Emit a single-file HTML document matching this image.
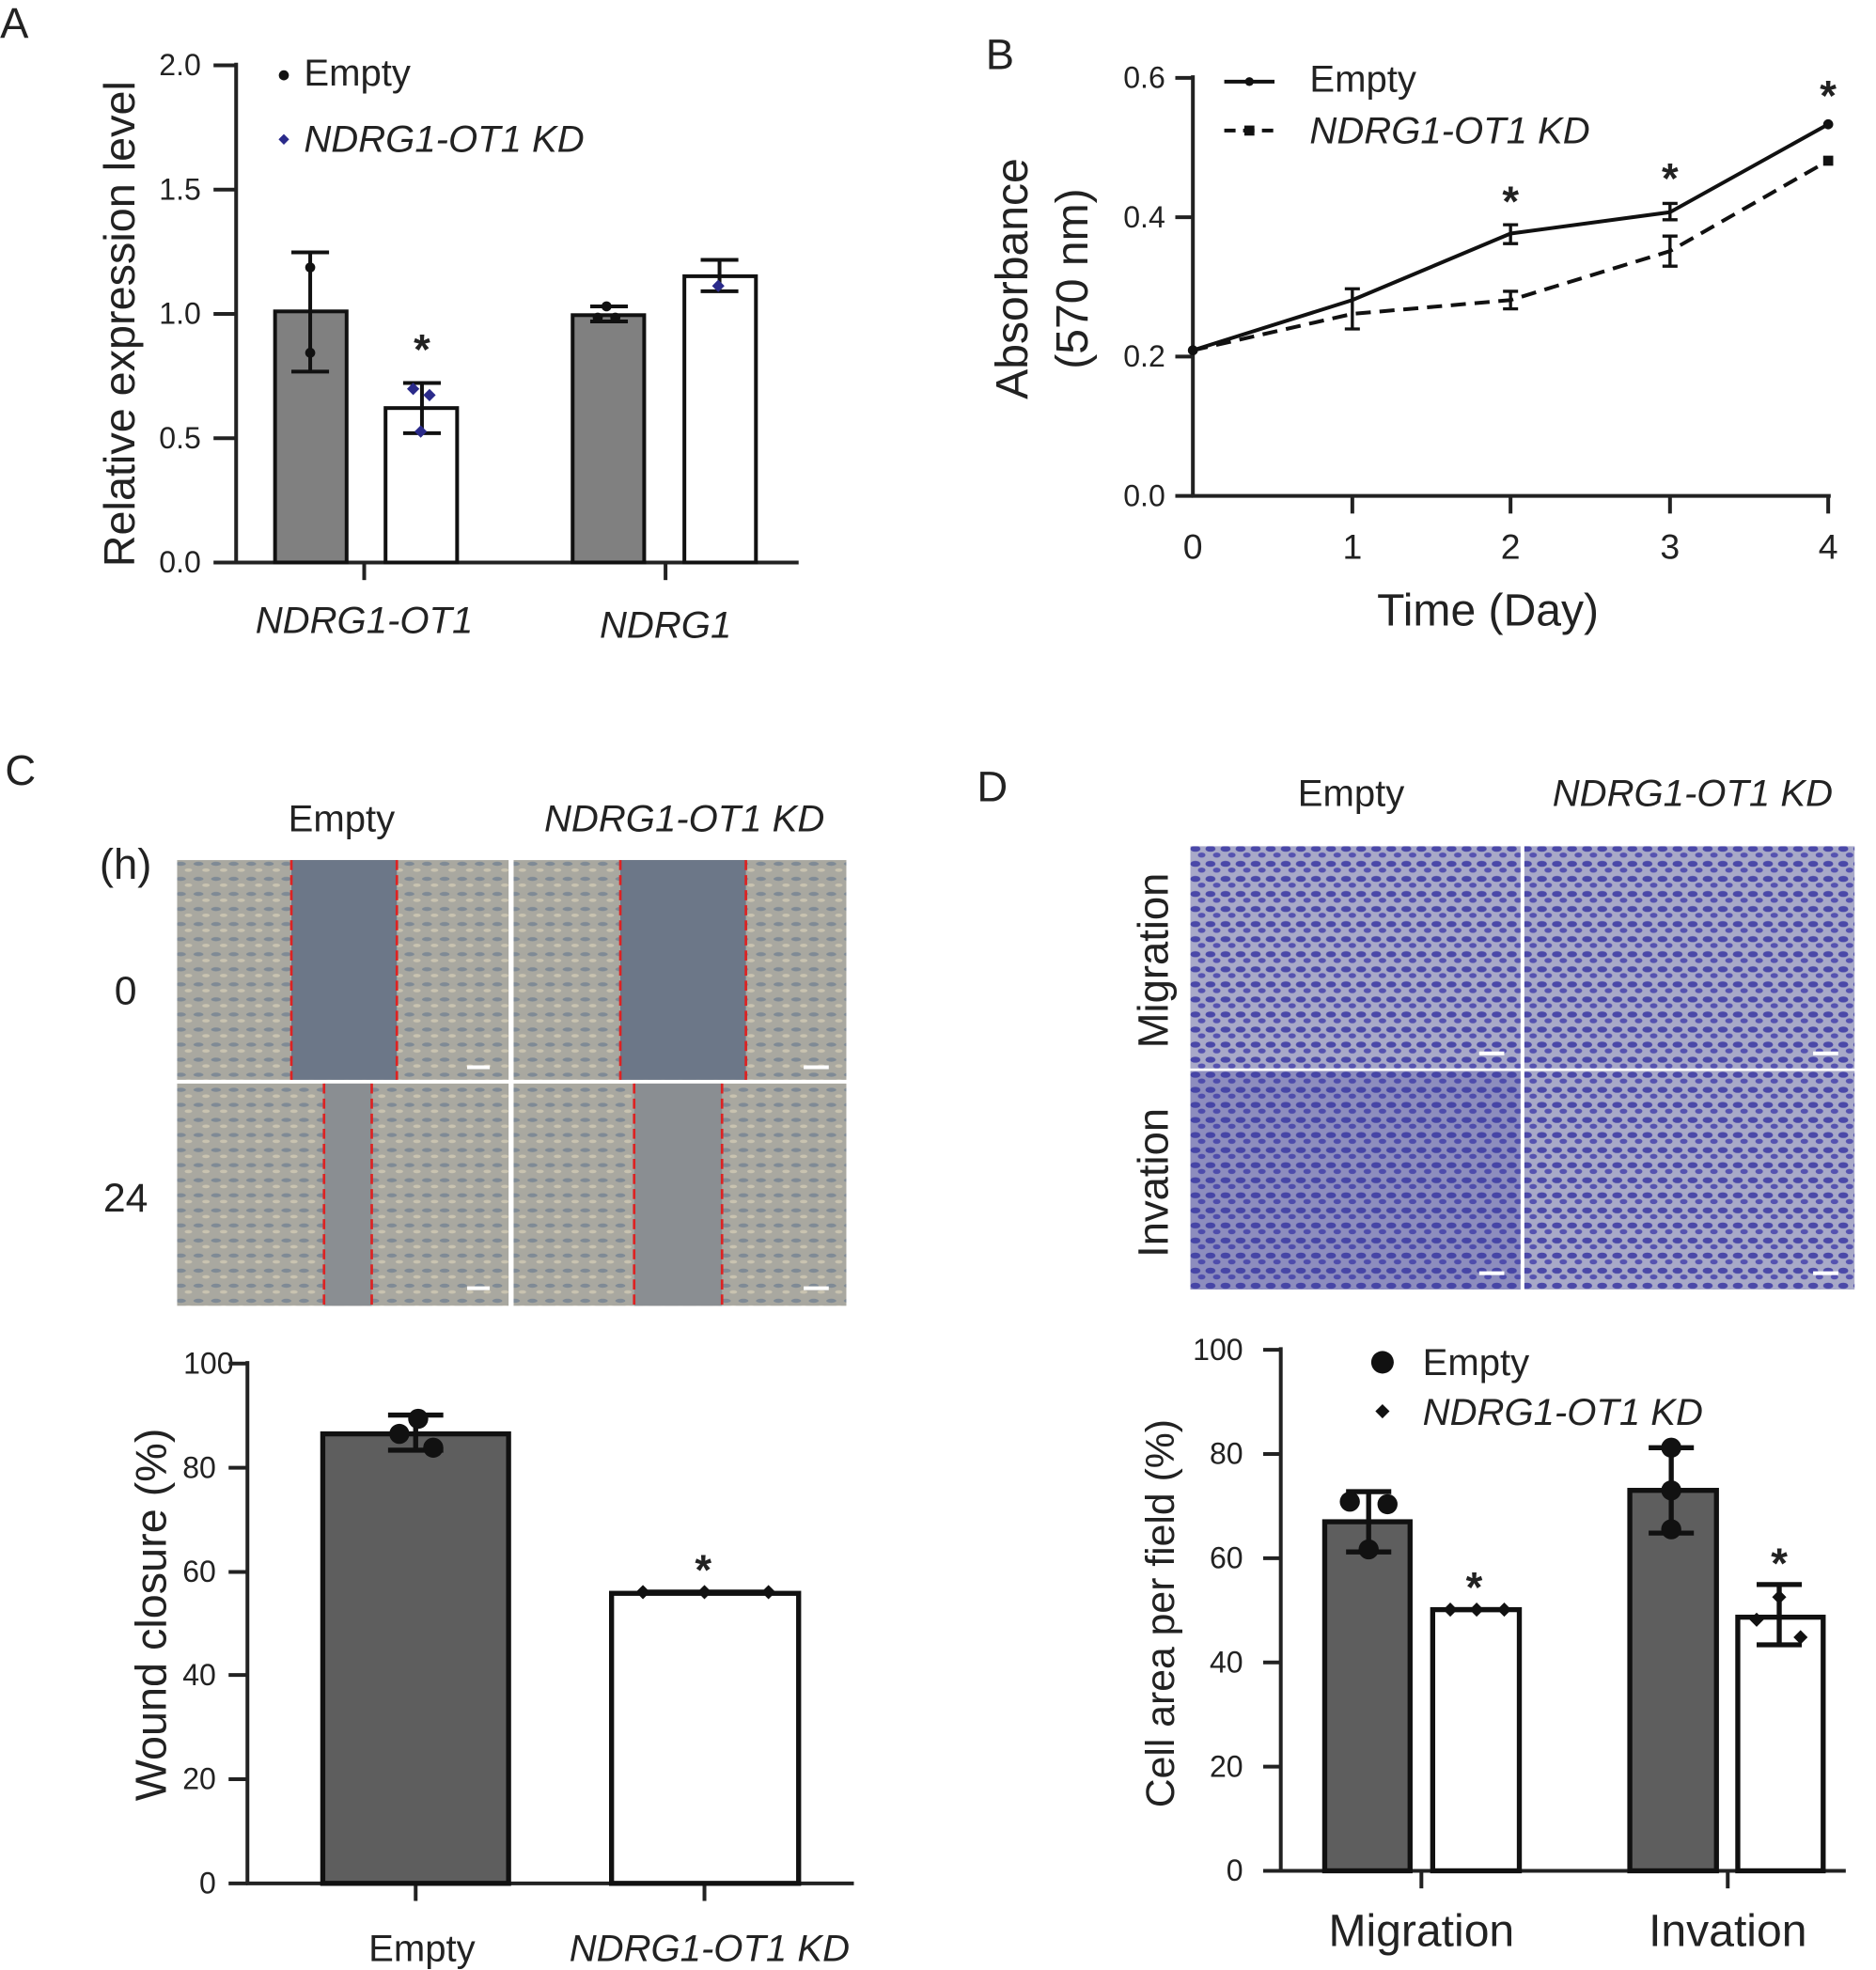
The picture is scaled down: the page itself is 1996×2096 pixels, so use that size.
<!DOCTYPE html>
<html><head><meta charset="utf-8"><style>
html,body{margin:0;padding:0;background:#fff}
svg{display:block}
text{font-family:"Liberation Sans",Arial,sans-serif;fill:#222}
.st{font-weight:bold}
</style></head><body>
<svg width="1996" height="2096" viewBox="0 0 1494 1569" xmlns="http://www.w3.org/2000/svg">
<defs>
<pattern id="cellsC" width="14" height="12" patternUnits="userSpaceOnUse">
<rect width="14" height="12" fill="#a9a8a0"/><ellipse cx="4" cy="4" rx="4" ry="1.6" fill="#7f8a95"/><ellipse cx="10" cy="9" rx="3" ry="1.4" fill="#c9c3b0"/>
</pattern>
<pattern id="cellsD" width="12" height="12" patternUnits="userSpaceOnUse">
<rect width="12" height="12" fill="#a8a9c8"/><ellipse cx="4" cy="4" rx="4" ry="2.4" fill="#4a48a8"/><ellipse cx="9" cy="9" rx="3" ry="2" fill="#5552b0"/>
</pattern>
</defs>
<!-- Panel A -->
<text x="0" y="30" font-size="34">A</text>
<g stroke="#222" stroke-width="3" fill="none">
<line x1="188" y1="50" x2="188" y2="449"/>
<line x1="186" y1="448" x2="636" y2="448"/>
<line x1="170" y1="52" x2="188" y2="52"/><line x1="170" y1="151" x2="188" y2="151"/><line x1="170" y1="250" x2="188" y2="250"/><line x1="170" y1="349" x2="188" y2="349"/><line x1="170" y1="448" x2="188" y2="448"/>
<line x1="290" y1="448" x2="290" y2="462"/><line x1="530" y1="448" x2="530" y2="462"/>
</g>
<g font-size="24" text-anchor="end"><text x="160" y="60">2.0</text><text x="160" y="159">1.5</text><text x="160" y="258">1.0</text><text x="160" y="357">0.5</text><text x="160" y="456">0.0</text></g>
<text transform="translate(107,258) rotate(-90)" font-size="35" text-anchor="middle">Relative expression level</text>
<g stroke="#111" stroke-width="3">
<rect x="219" y="248" width="57" height="200" fill="#808080"/>
<rect x="307" y="325" width="57" height="123" fill="#fff"/>
<rect x="456" y="251" width="57" height="197" fill="#808080"/>
<rect x="545" y="220" width="57" height="228" fill="#fff"/>
<line x1="247" y1="201" x2="247" y2="296"/><line x1="232" y1="201" x2="262" y2="201"/><line x1="232" y1="296" x2="262" y2="296"/>
<line x1="336" y1="305" x2="336" y2="345"/><line x1="321" y1="305" x2="351" y2="305"/><line x1="321" y1="345" x2="351" y2="345"/>
<line x1="470" y1="244" x2="500" y2="244"/><line x1="470" y1="256" x2="500" y2="256"/>
<line x1="573" y1="207" x2="573" y2="232"/><line x1="558" y1="207" x2="588" y2="207"/><line x1="558" y1="232" x2="588" y2="232"/>
</g>
<g fill="#111"><circle cx="247" cy="213" r="4"/><circle cx="247" cy="281" r="4"/><circle cx="483" cy="244" r="4"/><circle cx="476" cy="253" r="4"/><circle cx="490" cy="253" r="4"/></g>
<g fill="#2a2a8a"><rect x="326" y="306" width="7" height="7" transform="rotate(45 329 309)"/><rect x="339" y="311" width="7" height="7" transform="rotate(45 342 314)"/><rect x="332" y="340" width="7" height="7" transform="rotate(45 335 343)"/><rect x="569" y="224" width="7" height="7" transform="rotate(45 572 227)"/></g>
<text class="st" x="336" y="290" font-size="34" text-anchor="middle">*</text>
<circle cx="226" cy="60" r="4" fill="#111"/><text x="242" y="68" font-size="30">Empty</text>
<rect x="223" y="108" width="6" height="6" fill="#2a2a8a" transform="rotate(45 226 111)"/><text x="242" y="121" font-size="30" font-style="italic">NDRG1-OT1 KD</text>
<text x="290" y="504" font-size="30" font-style="italic" text-anchor="middle">NDRG1-OT1</text>
<text x="530" y="508" font-size="30" font-style="italic" text-anchor="middle">NDRG1</text>

<!-- Panel B -->
<text x="785" y="55" font-size="34">B</text>
<g stroke="#222" stroke-width="3" fill="none">
<line x1="950" y1="60" x2="950" y2="396"/><line x1="949" y1="395" x2="1458" y2="395"/>
<line x1="936" y1="62" x2="950" y2="62"/><line x1="936" y1="173" x2="950" y2="173"/><line x1="936" y1="284" x2="950" y2="284"/><line x1="936" y1="395" x2="950" y2="395"/>
<line x1="1077" y1="395" x2="1077" y2="409"/><line x1="1203" y1="395" x2="1203" y2="409"/><line x1="1330" y1="395" x2="1330" y2="409"/><line x1="1456" y1="395" x2="1456" y2="409"/>
</g>
<g font-size="24" text-anchor="end"><text x="928" y="70">0.6</text><text x="928" y="181">0.4</text><text x="928" y="292">0.2</text><text x="928" y="403">0.0</text></g>
<g font-size="28" text-anchor="middle"><text x="950" y="445">0</text><text x="1077" y="445">1</text><text x="1203" y="445">2</text><text x="1330" y="445">3</text><text x="1456" y="445">4</text></g>
<text x="1185" y="498" font-size="36" text-anchor="middle">Time (Day)</text>
<text transform="translate(818,222) rotate(-90)" font-size="36" text-anchor="middle">Absorbance</text>
<text transform="translate(866,222) rotate(-90)" font-size="36" text-anchor="middle">(570 nm)</text>
<polyline points="950,279 1077,239 1203,186 1330,169 1456,99" fill="none" stroke="#111" stroke-width="3"/>
<polyline points="950,279 1077,250 1203,239 1330,200 1456,128" fill="none" stroke="#111" stroke-width="3" stroke-dasharray="12,7"/>
<g stroke="#111" stroke-width="2.5">
<line x1="1077" y1="230" x2="1077" y2="262"/><line x1="1071" y1="230" x2="1083" y2="230"/><line x1="1071" y1="262" x2="1083" y2="262"/>
<line x1="1203" y1="179" x2="1203" y2="194"/><line x1="1197" y1="179" x2="1209" y2="179"/><line x1="1197" y1="194" x2="1209" y2="194"/>
<line x1="1203" y1="232" x2="1203" y2="246"/><line x1="1197" y1="232" x2="1209" y2="232"/><line x1="1197" y1="246" x2="1209" y2="246"/>
<line x1="1330" y1="162" x2="1330" y2="175"/><line x1="1324" y1="162" x2="1336" y2="162"/><line x1="1324" y1="175" x2="1336" y2="175"/>
<line x1="1330" y1="188" x2="1330" y2="212"/><line x1="1324" y1="188" x2="1336" y2="188"/><line x1="1324" y1="212" x2="1336" y2="212"/>
</g>
<g fill="#111"><circle cx="1456" cy="99" r="4"/><rect x="1452" y="124" width="8" height="8"/><circle cx="950" cy="279" r="4"/></g>
<g class="st" font-size="34" text-anchor="middle"><text x="1203" y="172">*</text><text x="1330" y="154">*</text><text x="1456" y="88">*</text></g>
<line x1="975" y1="65" x2="1015" y2="65" stroke="#111" stroke-width="3"/><circle cx="995" cy="65" r="3.5" fill="#111"/>
<text x="1043" y="73" font-size="30">Empty</text>
<line x1="975" y1="104" x2="1015" y2="104" stroke="#111" stroke-width="3" stroke-dasharray="9,6"/><rect x="991" y="100" width="8" height="8" fill="#111"/>
<text x="1043" y="114" font-size="30" font-style="italic">NDRG1-OT1 KD</text>

<!-- Panel C -->
<text x="4" y="625" font-size="34">C</text>
<text x="272" y="662" font-size="30" text-anchor="middle">Empty</text>
<text x="545" y="662" font-size="30" font-style="italic" text-anchor="middle">NDRG1-OT1 KD</text>
<text x="100" y="700" font-size="34" text-anchor="middle">(h)</text>
<text x="100" y="800" font-size="32" text-anchor="middle">0</text>
<text x="100" y="965" font-size="32" text-anchor="middle">24</text>
<rect x="141" y="685" width="264" height="175" fill="url(#cellsC)"/>
<rect x="232" y="685" width="84" height="175" fill="#6c7788"/>
<rect x="409" y="685" width="265" height="175" fill="url(#cellsC)"/>
<rect x="494" y="685" width="100" height="175" fill="#6c7788"/>
<rect x="141" y="863" width="264" height="177" fill="url(#cellsC)"/>
<rect x="258" y="863" width="38" height="177" fill="#8a8e92"/>
<rect x="409" y="863" width="265" height="177" fill="url(#cellsC)"/>
<rect x="505" y="863" width="70" height="177" fill="#8a8e92"/>
<g stroke="#d22" stroke-width="2" stroke-dasharray="8,4"><line x1="232" y1="685" x2="232" y2="860"/><line x1="316" y1="685" x2="316" y2="860"/><line x1="494" y1="685" x2="494" y2="860"/><line x1="594" y1="685" x2="594" y2="860"/><line x1="258" y1="863" x2="258" y2="1040"/><line x1="296" y1="863" x2="296" y2="1040"/><line x1="505" y1="863" x2="505" y2="1040"/><line x1="575" y1="863" x2="575" y2="1040"/></g>
<g stroke="#fff" stroke-width="3"><line x1="372" y1="850" x2="390" y2="850"/><line x1="640" y1="850" x2="660" y2="850"/><line x1="372" y1="1026" x2="390" y2="1026"/><line x1="640" y1="1026" x2="660" y2="1026"/></g>
<g stroke="#222" stroke-width="3" fill="none">
<line x1="197" y1="1084" x2="197" y2="1501"/><line x1="196" y1="1500" x2="680" y2="1500"/>
<line x1="182" y1="1086" x2="197" y2="1086"/><line x1="182" y1="1169" x2="197" y2="1169"/><line x1="182" y1="1252" x2="197" y2="1252"/><line x1="182" y1="1334" x2="197" y2="1334"/><line x1="182" y1="1417" x2="197" y2="1417"/><line x1="182" y1="1500" x2="197" y2="1500"/>
<line x1="331" y1="1500" x2="331" y2="1514"/><line x1="561" y1="1500" x2="561" y2="1514"/>
</g>
<g font-size="24" text-anchor="end"><text x="186" y="1094">100</text><text x="172" y="1177">80</text><text x="172" y="1260">60</text><text x="172" y="1342">40</text><text x="172" y="1425">20</text><text x="172" y="1508">0</text></g>
<text transform="translate(132,1286) rotate(-90)" font-size="35" text-anchor="middle">Wound closure (%)</text>
<g stroke="#111" stroke-width="4">
<rect x="257" y="1142" width="148" height="358" fill="#5e5e5e"/>
<rect x="487" y="1269" width="149" height="231" fill="#fff"/>
<line x1="331" y1="1127" x2="331" y2="1155"/><line x1="309" y1="1127" x2="353" y2="1127"/><line x1="309" y1="1155" x2="353" y2="1155"/>
<line x1="512" y1="1268" x2="612" y2="1268"/>
</g>
<g fill="#111"><circle cx="333" cy="1130" r="8"/><circle cx="318" cy="1142" r="8"/><circle cx="345" cy="1153" r="8"/><rect x="508" y="1264" width="8" height="8" transform="rotate(45 512 1268)"/><rect x="557" y="1264" width="8" height="8" transform="rotate(45 561 1268)"/><rect x="608" y="1264" width="8" height="8" transform="rotate(45 612 1268)"/></g>
<text class="st" x="560" y="1262" font-size="34" text-anchor="middle">*</text>
<text x="336" y="1562" font-size="30" text-anchor="middle">Empty</text>
<text x="565" y="1562" font-size="30" font-style="italic" text-anchor="middle">NDRG1-OT1 KD</text>

<!-- Panel D -->
<text x="778" y="638" font-size="34">D</text>
<text x="1076" y="642" font-size="30" text-anchor="middle">Empty</text>
<text x="1348" y="642" font-size="30" font-style="italic" text-anchor="middle">NDRG1-OT1 KD</text>
<text transform="translate(930,765) rotate(-90)" font-size="34" text-anchor="middle">Migration</text>
<text transform="translate(930,942) rotate(-90)" font-size="34" text-anchor="middle">Invation</text>
<rect x="948" y="674" width="263" height="177" fill="url(#cellsD)"/>
<rect x="1214" y="674" width="263" height="177" fill="url(#cellsD)"/>
<rect x="948" y="853" width="263" height="174" fill="url(#cellsD)"/>
<rect x="1214" y="853" width="263" height="174" fill="url(#cellsD)"/>
<rect x="948" y="853" width="263" height="174" fill="#3c3aa0" opacity="0.25"/>
<g stroke="#fff" stroke-width="3"><line x1="1178" y1="839" x2="1198" y2="839"/><line x1="1444" y1="839" x2="1464" y2="839"/><line x1="1178" y1="1014" x2="1198" y2="1014"/><line x1="1444" y1="1014" x2="1464" y2="1014"/></g>
<g stroke="#222" stroke-width="3" fill="none">
<line x1="1020" y1="1073" x2="1020" y2="1491"/><line x1="1019" y1="1490" x2="1470" y2="1490"/>
<line x1="1006" y1="1075" x2="1020" y2="1075"/><line x1="1006" y1="1158" x2="1020" y2="1158"/><line x1="1006" y1="1241" x2="1020" y2="1241"/><line x1="1006" y1="1324" x2="1020" y2="1324"/><line x1="1006" y1="1407" x2="1020" y2="1407"/><line x1="1006" y1="1490" x2="1020" y2="1490"/>
<line x1="1132" y1="1490" x2="1132" y2="1504"/><line x1="1376" y1="1490" x2="1376" y2="1504"/>
</g>
<g font-size="24" text-anchor="end"><text x="990" y="1083">100</text><text x="990" y="1166">80</text><text x="990" y="1249">60</text><text x="990" y="1332">40</text><text x="990" y="1415">20</text><text x="990" y="1498">0</text></g>
<text transform="translate(935,1285) rotate(-90)" font-size="32" text-anchor="middle">Cell area per field (%)</text>
<g stroke="#111" stroke-width="4">
<rect x="1055" y="1212" width="68" height="278" fill="#5e5e5e"/>
<rect x="1141" y="1282" width="69" height="208" fill="#fff"/>
<rect x="1298" y="1187" width="69" height="303" fill="#5e5e5e"/>
<rect x="1384" y="1288" width="68" height="202" fill="#fff"/>
<line x1="1090" y1="1188" x2="1090" y2="1236"/><line x1="1072" y1="1188" x2="1108" y2="1188"/><line x1="1072" y1="1236" x2="1108" y2="1236"/>
<line x1="1155" y1="1282" x2="1198" y2="1282"/>
<line x1="1331" y1="1153" x2="1331" y2="1221"/><line x1="1313" y1="1153" x2="1349" y2="1153"/><line x1="1313" y1="1221" x2="1349" y2="1221"/>
<line x1="1417" y1="1262" x2="1417" y2="1310"/><line x1="1399" y1="1262" x2="1435" y2="1262"/><line x1="1399" y1="1310" x2="1435" y2="1310"/>
</g>
<g fill="#111"><circle cx="1075" cy="1196" r="8"/><circle cx="1105" cy="1198" r="8"/><circle cx="1090" cy="1234" r="8"/><circle cx="1331" cy="1153" r="8"/><circle cx="1331" cy="1187" r="8"/><circle cx="1331" cy="1218" r="8"/>
<rect x="1151" y="1278" width="8" height="8" transform="rotate(45 1155 1282)"/><rect x="1172" y="1278" width="8" height="8" transform="rotate(45 1176 1282)"/><rect x="1194" y="1278" width="8" height="8" transform="rotate(45 1198 1282)"/>
<rect x="1395" y="1286" width="8" height="8" transform="rotate(45 1399 1290)"/><rect x="1430" y="1300" width="8" height="8" transform="rotate(45 1434 1304)"/><rect x="1413" y="1268" width="8" height="8" transform="rotate(45 1417 1272)"/></g>
<g class="st" font-size="34" text-anchor="middle"><text x="1174" y="1276">*</text><text x="1417" y="1257">*</text></g>
<circle cx="1101" cy="1085" r="9" fill="#111"/><text x="1133" y="1095" font-size="30">Empty</text>
<rect x="1097" y="1120" width="8" height="8" fill="#111" transform="rotate(45 1101 1124)"/><text x="1133" y="1135" font-size="30" font-style="italic">NDRG1-OT1 KD</text>
<text x="1132" y="1550" font-size="36" text-anchor="middle">Migration</text>
<text x="1376" y="1550" font-size="36" text-anchor="middle">Invation</text>
</svg>
</body></html>
